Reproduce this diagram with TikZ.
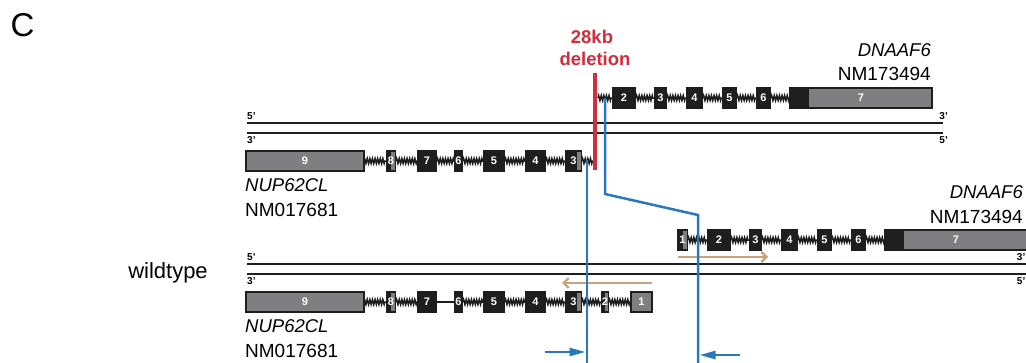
\documentclass[tikz,border=0pt]{standalone}
\usepackage{fontspec}
\setmainfont{Liberation Sans}
\usepackage{tikz}
\usetikzlibrary{arrows.meta,decorations.pathmorphing}
\definecolor{Ink}{HTML}{1E1E1E}
\definecolor{Grey}{HTML}{7F7F82}
\definecolor{Blue}{HTML}{2878BD}
\definecolor{Tan}{HTML}{C8A47E}
\definecolor{Red}{HTML}{D22D3A}
\tikzset{exon/.style={fill=Ink,text=white,font=\fontsize{11}{11}\selectfont\bfseries,minimum height=22,inner sep=0pt,outer sep=0pt},utr/.style={exon,fill=Grey,draw=Ink,line width=2.2,minimum height=20},splitexon/.style={exon,path picture={\fill[Grey]([xshift=-#1-1.5,yshift=-2]path picture bounding box.north east)rectangle([xshift=-1.5,yshift=2]path picture bounding box.south east);}},lastexon/.style={utr,path picture={\fill[Ink](path picture bounding box.south west)rectangle([xshift=19]path picture bounding box.north west);}},intron/.style={Ink,line width=1.5,decorate,decoration={zigzag,amplitude=2.5,segment length=2.6}},strand/.style={Ink,line width=2.8},prime/.style={font=\fontsize{10}{10}\selectfont\bfseries,inner sep=0pt},gene/.style={font=\fontsize{18.5}{19}\selectfont\itshape,inner sep=0pt},refseq/.style={font=\fontsize{19}{19}\selectfont,inner sep=0pt},cut/.style={Blue,line width=2.5},tanarrow/.style={Tan,line width=2.4,-{Straight Barb[length=5pt,width=10pt]}},bluearrow/.style={Blue,line width=2.5,-{Triangle[length=16pt,width=8pt]}}}
\begin{document}
\begin{tikzpicture}[x=1pt,y=-1pt]
\useasboundingbox(0,0)rectangle(1026,362);
\node[anchor=west,font=\fontsize{33}{33}\selectfont](panel)at(7,25){C};
\node[anchor=base,font=\fontsize{22}{22}\selectfont](wt)at(168,278){wildtype};
\node[anchor=base,font=\fontsize{18.5}{19}\selectfont\bfseries,text=Red,inner sep=0pt](del1)at(592,43){28kb};
\node[anchor=base,font=\fontsize{18.5}{19}\selectfont\bfseries,text=Red,inner sep=0pt](del2)at(595,65){deletion};
% deleted allele
\draw[strand](247,123)--(943,123);
\draw[strand](247,133)--(943,133);
\node[prime,anchor=south west](p1)at(247,120){5'};
\node[prime,anchor=north west](p2)at(247,136){3'};
\node[prime,anchor=south east](p3)at(948,120){3'};
\node[prime,anchor=north east](p4)at(948,136){5'};
\node[gene,anchor=base east](gA)at(931,56){DNAAF6};
\node[refseq,anchor=base east](rA)at(931,80){NM173494};
\node[gene,anchor=base west](gB)at(245,191){NUP62CL};
\node[refseq,anchor=base west](rB)at(245,216){NM017681};
\node[exon,minimum width=24](tD2)at(624,98){2};
\node[exon,minimum width=13](tD3)at(660.5,98){3};
\node[exon,minimum width=17](tD4)at(694.5,98){4};
\node[exon,minimum width=15](tD5)at(729.5,98){5};
\node[exon,minimum width=15](tD6)at(763.5,98){6};
\node[lastexon,minimum width=142](tD7)at(861,98){7};
\coordinate(tDbreak)at(598,98);
\draw[intron](tDbreak)--(tD2);
\draw[intron](tD2)--(tD3);
\draw[intron](tD3)--(tD4);
\draw[intron](tD4)--(tD5);
\draw[intron](tD5)--(tD6);
\draw[intron](tD6)--(tD7);
\node[utr,minimum width=118](tN9)at(305,161){9};
\node[splitexon=4,minimum width=10](tN8)at(391,161){8};
\node[exon,minimum width=20](tN7)at(427,161){7};
\node[exon,minimum width=9](tN6)at(458.5,161){6};
\node[exon,minimum width=22](tN5)at(494,161){5};
\node[exon,minimum width=21](tN4)at(535.5,161){4};
\node[splitexon=4,minimum width=17](tN3)at(573.5,161){3};
\coordinate(tNbreak)at(593,161);
\draw[intron](tN9)--(tN8);
\draw[intron](tN8)--(tN7);
\draw[intron](tN7)--(tN6);
\draw[intron](tN6)--(tN5);
\draw[intron](tN5)--(tN4);
\draw[intron](tN4)--(tN3);
\draw[intron](tN3)--(tNbreak);
% wildtype allele
\draw[strand](247,264)--(1030,264);
\draw[strand](247,274)--(1030,274);
\node[prime,anchor=south west](p5)at(247,261){5'};
\node[prime,anchor=north west](p6)at(247,277){3'};
\node[prime,anchor=south east](p7)at(1025.5,261){3'};
\node[prime,anchor=north east](p8)at(1025.5,277){5'};
\node[gene,anchor=base east](gC)at(1023,198){DNAAF6};
\node[refseq,anchor=base east](rC)at(1023,223){NM173494};
\node[gene,anchor=base west](gD)at(245,332){NUP62CL};
\node[refseq,anchor=base west](rD)at(245,357){NM017681};
\node[splitexon=4,minimum width=11](wD1)at(682.5,240){1};
\node[exon,minimum width=24](wD2)at(719,240){2};
\node[exon,minimum width=13](wD3)at(755.5,240){3};
\node[exon,minimum width=17](wD4)at(789.5,240){4};
\node[exon,minimum width=15](wD5)at(824.5,240){5};
\node[exon,minimum width=15](wD6)at(858.5,240){6};
\node[lastexon,minimum width=142](wD7)at(956,240){7};
\draw[intron](wD1)--(wD2);
\draw[intron](wD2)--(wD3);
\draw[intron](wD3)--(wD4);
\draw[intron](wD4)--(wD5);
\draw[intron](wD5)--(wD6);
\draw[intron](wD6)--(wD7);
\node[utr,minimum width=118](wN9)at(305,302){9};
\node[splitexon=4,minimum width=10](wN8)at(391,302){8};
\node[exon,minimum width=20](wN7)at(427,302){7};
\node[exon,minimum width=9](wN6)at(458.5,302){6};
\node[exon,minimum width=22](wN5)at(494,302){5};
\node[exon,minimum width=21](wN4)at(535.5,302){4};
\node[splitexon=4,minimum width=17](wN3)at(573.5,302){3};
\node[splitexon=3,minimum width=8](wN2)at(605,302){2};
\node[utr,minimum width=21](wN1)at(641.5,302){1};
\draw[intron](wN9)--(wN8);
\draw[intron](wN8)--(wN7);
\draw[Ink,line width=1.3](wN7)--(wN6);
\draw[intron](wN6)--(wN5);
\draw[intron](wN5)--(wN4);
\draw[intron](wN4)--(wN3);
\draw[intron](wN3)--(wN2);
\draw[intron](wN2)--(wN1);
% transcription direction
\coordinate(tanA0)at(678,257);\coordinate(tanA1)at(768,257);
\coordinate(tanB0)at(652,283);\coordinate(tanB1)at(562,283);
\draw[tanarrow](tanA0)--(tanA1);
\draw[tanarrow](tanB0)--(tanB1);
% breakpoints
\coordinate(redtop)at(595,73);\coordinate(redbot)at(595,170);
\draw[Red,line width=4](redtop)--(redbot);
\coordinate(bpA)at(587,160);\coordinate(bpAend)at(587,363);
\coordinate(bpB)at(605,98);\coordinate(bpBk1)at(605,194);\coordinate(bpBk2)at(698,215);\coordinate(bpBend)at(698,363);
\draw[cut](bpA)--(bpAend);
\draw[cut,line join=miter](bpB)--(bpBk1)--(bpBk2)--(bpBend);
\coordinate(arA)at(545,352);\coordinate(arB)at(740,355);
\draw[bluearrow](arA)--([xshift=-1.5]bpAend|-arA);
\draw[bluearrow](arB)--([xshift=1.5]bpBend|-arB);
\end{tikzpicture}
\end{document}
